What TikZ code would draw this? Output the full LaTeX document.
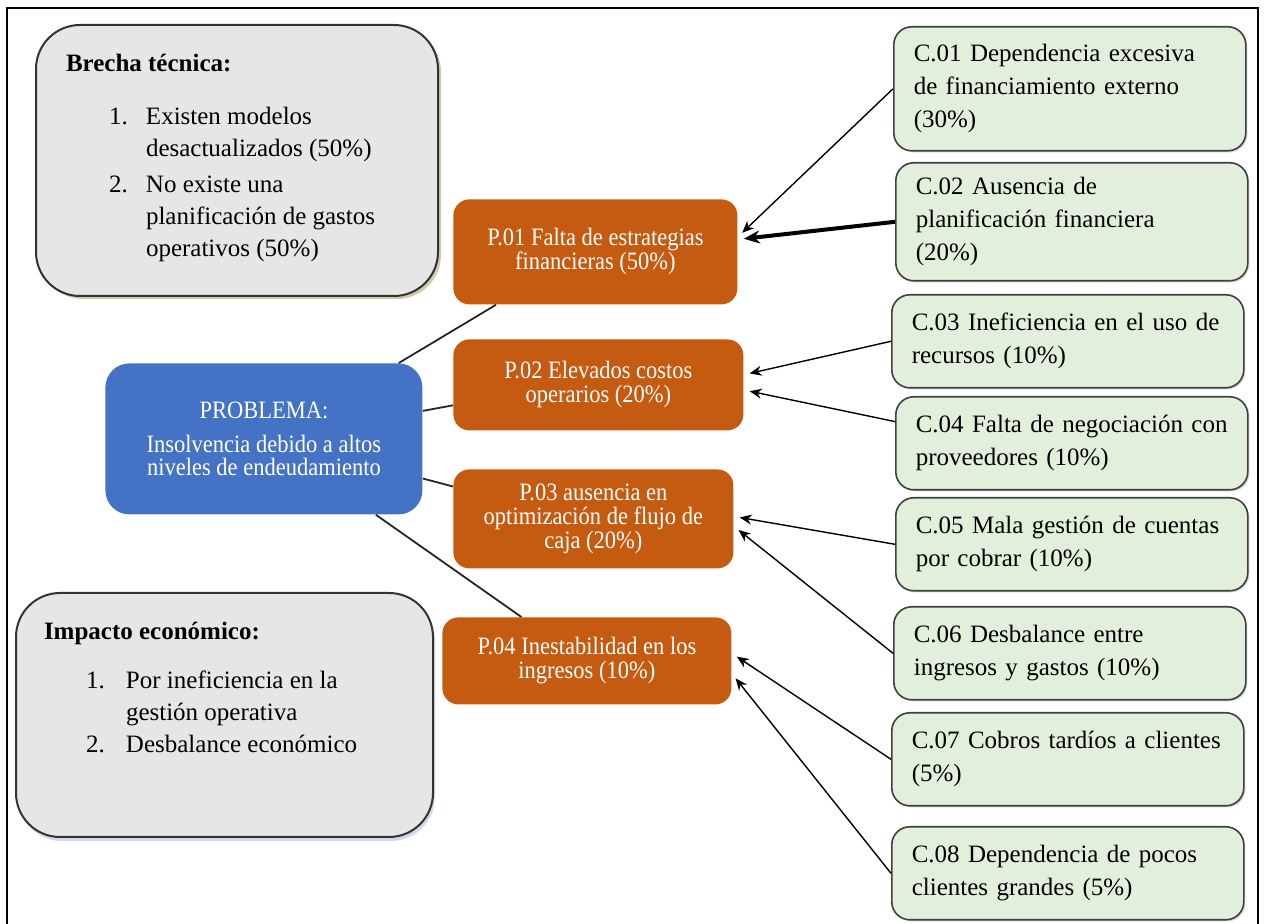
\documentclass[tikz,border=0pt]{standalone}
\usepackage{fontspec}
\setmainfont{Liberation Serif}
\newfontfamily\narrowserif[FakeStretch=0.9]{Liberation Serif}
\usetikzlibrary{arrows.meta,shadows}

\definecolor{probblue}{HTML}{4472C4}
\definecolor{porange}{HTML}{C55A11}
\definecolor{cgreen}{HTML}{E2EFDA}
\definecolor{notegray}{HTML}{E7E6E6}
\definecolor{tanshadow}{HTML}{A8925A}
\definecolor{blueshadow}{HTML}{9DB3D8}

\newcommand{\numitem}[2]{\noindent\llap{\makebox[#1][l]{#2}}}

\begin{document}
\begin{tikzpicture}[
			x=0.5pt, y=-0.5pt,
			notebox/.style={draw=black!80, line width=1pt, fill=notegray, rounded corners=22pt, anchor=north west, inner ysep=14.5pt, font=\fontsize{12.5}{16}\selectfont},
			probbox/.style={fill=probblue, text=white, rounded corners=12pt, anchor=north west, align=center, minimum width=158.5pt, minimum height=75.5pt, font=\narrowserif\fontsize{12.5}{11.5}\selectfont},
			pbox/.style={fill=porange, text=white, rounded corners=8pt, anchor=north west, align=center, font=\narrowserif\fontsize{12.5}{12}\selectfont},
			cbox/.style={draw=black!75, line width=0.8pt, fill=cgreen, rounded corners=9pt, anchor=north west, align=left, text width=156pt, inner xsep=10pt, minimum height=46.5pt, font=\fontsize{12.5}{16.5}\selectfont, drop shadow={shadow xshift=0.8pt, shadow yshift=-0.8pt, fill=black!30}},
			link/.style={draw=black!85, line width=0.9pt},
			arr/.style={-{Stealth[length=6pt,width=5pt]}, line width=0.7pt, shorten >=3pt},
			]
			\useasboundingbox (0,0) rectangle (1265,924);
			\clip (0,0) rectangle (1265,924);
			\draw[line width=1pt] (7,940) -- (7,8) -- (1258,8) -- (1258,940);

			%Nodes
			\node[notebox, inner xsep=15pt, drop shadow={shadow xshift=1.5pt, shadow yshift=-1.5pt, fill=tanshadow}] (brecha) at (35,24)
				{\parbox[c][106.5pt][t]{171pt}{\baselineskip=16pt
				\textbf{Brecha técnica:}\par\vspace{10.5pt}
				\leftskip=40pt
				\numitem{18.5pt}{1.}Existen modelos\\desactualizados (50\%)\par\vspace{2pt}
				\numitem{18.5pt}{2.}No existe una\\planificación de gastos\\operativos (50\%)}};
			\node[notebox, inner xsep=14pt, drop shadow={shadow xshift=1pt, shadow yshift=-2pt, fill=blueshadow}] (impacto) at (15,592)
				{\parbox[c][93pt][t]{180.5pt}{\baselineskip=16pt
				\textbf{Impacto económico:}\par\vspace{8.5pt}
				\leftskip=41pt
				\numitem{20pt}{1.}Por ineficiencia en la\\gestión operativa\par
				\numitem{20pt}{2.}Desbalance económico}};

			\node[probbox] (prob) at (105,363) {PROBLEMA:\\[5.5pt]Insolvencia debido a altos\\niveles de endeudamiento};

			\node[pbox, minimum width=142pt, minimum height=52.5pt] (p1) at (453,199) {P.01 Falta de estrategias\\financieras (50\%)};
			\node[pbox, minimum width=145pt, minimum height=45.5pt] (p2) at (453,339) {P.02 Elevados costos\\operarios (20\%)};
			\node[pbox, minimum width=140pt, minimum height=49.5pt] (p3) at (453,469) {P.03 ausencia en\\optimización de flujo de\\caja (20\%)};
			\node[pbox, minimum width=144.5pt, minimum height=43.5pt] (p4) at (442,617) {P.04 Inestabilidad en los\\ingresos (10\%)};

			\node[cbox, minimum height=62pt] (c1) at (893,26) {C.01 Dependencia excesiva\\de financiamiento externo\\(30\%)};
			\node[cbox, minimum height=59pt] (c2) at (895,162) {C.02 Ausencia de\\planificación financiera\\(20\%)};
			\node[cbox] (c3) at (891,294) {C.03 Ineficiencia en el uso de\\recursos (10\%)};
			\node[cbox] (c4) at (895,396) {C.04 Falta de negociación con\\proveedores (10\%)};
			\node[cbox] (c5) at (895,497) {C.05 Mala gestión de cuentas\\por cobrar (10\%)};
			\node[cbox] (c6) at (893,606) {C.06 Desbalance entre\\ingresos y gastos (10\%)};
			\node[cbox] (c7) at (891,712) {C.07 Cobros tardíos a clientes\\(5\%)};
			\node[cbox] (c8) at (891,826) {C.08 Dependencia de pocos\\clientes grandes (5\%)};

			%Lines
			\draw[link] ([xshift=-12pt]prob.north east) -- ([xshift=21.5pt]p1.south west);
			\draw[link] (prob.10) -- (p2.188);
			\draw[link] (prob.-14) -- (p3.167);
			\draw[link] ([xshift=56pt]prob.south) -- ([xshift=-32.75pt]p4.north);

			%Arrows
			\draw[arr] (c1.west) -- (p1.6);
			\draw[arr, line width=2pt, -{Stealth[length=8pt,width=6.5pt]}] (c2.west) -- (p1.5);
			\draw[arr] (c3.west) -- (p2.4);
			\draw[arr] (c4.173) -- (p2.-2);
			\draw[arr] (c5.west) -- (p3.1);
			\draw[arr] (c6.west) -- (p3.-3);
			\draw[arr] (c7.west) -- (p4.3);
			\draw[arr] (c8.west) -- (p4.-5);
		\end{tikzpicture}
\end{document}
